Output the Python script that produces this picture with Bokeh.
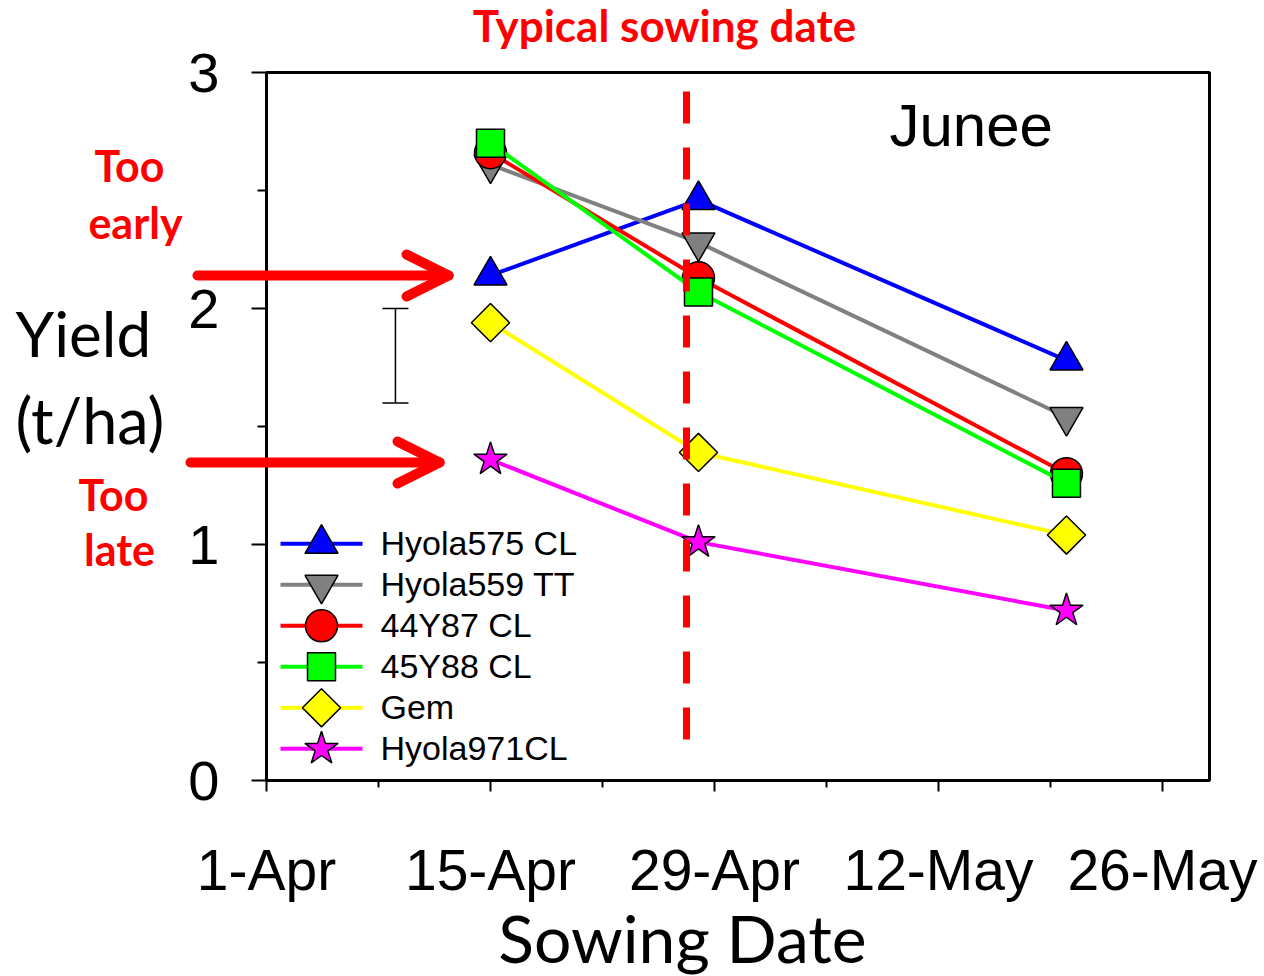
import math
from bokeh.plotting import figure
from bokeh.models import (Range1d, FixedTicker, Whisker, TeeHead, ColumnDataSource)
from bokeh.core.properties import value
from bokeh.embed import file_html
from bokeh.resources import INLINE

# ---------------- data ----------------
sow_days = [14, 27, 50]            # days after 1-Apr
hyola575 = [2.14, 2.46, 1.78]
hyola559 = [2.61, 2.28, 1.54]
y44y87 = [2.66, 2.13, 1.30]
y45y88 = [2.70, 2.07, 1.26]
gem = [1.94, 1.39, 1.04]
hyola971 = [1.36, 1.01, 0.72]
series_names = ["Hyola575 CL", "Hyola559 TT", "44Y87 CL", "45Y88 CL", "Gem", "Hyola971CL"]
series_values = [hyola575, hyola559, y44y87, y45y88, gem, hyola971]

tick_days = [0, 14, 28, 42, 56]
tick_labels = ["1-Apr", "15-Apr", "29-Apr", "12-May", "26-May"]
minor_days = [7, 21, 35, 49]
y_ticks = [0, 1, 2, 3]
y_minor = [0.5, 1.5, 2.5]

lsd_day = 8.06
lsd_low = 1.60
lsd_high = 2.00
typical_day = 26.25
typical_top = 2.92
typical_bottom = 0.17

# ---------------- styles ----------------
styles = [
    dict(color="#0000FF", marker="triangle", size=33, angle=0.0),
    dict(color="#808080", marker="inverted_triangle", size=33, angle=0.0),
    dict(color="#FF0000", marker="circle", size=32, angle=0.0),
    dict(color="#00FF00", marker="square", size=28, angle=0.0),
    dict(color="#FFFF00", marker="square", size=27, angle=math.pi / 4),
    dict(color="#FF00FF", marker="star", size=35, angle=0.0),
]

W, H = 1264, 976
FL, FT, FR, FB = 266, 72, 1209, 780      # frame in canvas px
X_MAX = 58.94
PX_PER_DAY = (FR - FL) / X_MAX
PX_PER_T = (FB - FT) / 3.0


def cx(px):   # canvas px -> data x
    return (px - FL) / PX_PER_DAY


def cy(py):   # canvas px -> data y
    return (FB - py) / PX_PER_T


p = figure(width=W, height=H, output_backend="svg", toolbar_location=None,
           x_range=Range1d(0, X_MAX), y_range=Range1d(0, 3),
           min_border_left=FL, min_border_right=W - FR,
           min_border_top=FT, min_border_bottom=H - FB)
p.grid.visible = False
p.outline_line_color = "black"
p.outline_line_width = 3
p.background_fill_color = "white"
p.border_fill_color = "white"

ax = p.xaxis[0]
ax.ticker = FixedTicker(ticks=tick_days, minor_ticks=minor_days)
ax.major_label_overrides = {d: l for d, l in zip(tick_days, tick_labels)}
ax.major_label_text_font = "Liberation Sans"
ax.major_label_text_font_size = "57px"
ax.major_label_text_color = "black"
ax.major_label_standoff = 46
ax.axis_line_width = 3
ax.axis_line_color = "black"
ax.major_tick_out = 11
ax.major_tick_in = 0
ax.minor_tick_out = 7
ax.minor_tick_in = 0
ax.major_tick_line_width = 2
ax.minor_tick_line_width = 2
ax.major_tick_line_color = "black"
ax.minor_tick_line_color = "black"

ay = p.yaxis[0]
ay.ticker = FixedTicker(ticks=y_ticks, minor_ticks=y_minor)
ay.major_label_text_font = "Liberation Sans"
ay.major_label_text_font_size = "56px"
ay.major_label_text_color = "black"
ay.major_label_standoff = 32
ay.axis_line_width = 3
ay.axis_line_color = "black"
ay.major_tick_out = 15
ay.major_tick_in = 0
ay.minor_tick_out = 9
ay.minor_tick_in = 0
ay.major_tick_line_width = 2
ay.minor_tick_line_width = 2
ay.major_tick_line_color = "black"
ay.minor_tick_line_color = "black"

# ---------------- series ----------------
for vals, st in zip(series_values, styles):
    p.line(sow_days, vals, line_color=st["color"], line_width=4)
    p.scatter(sow_days, vals, marker=st["marker"], size=st["size"], angle=st["angle"],
              fill_color=st["color"], line_color="black", line_width=1.5)

# typical sowing date line
p.line([typical_day, typical_day], [typical_top, typical_bottom],
       line_color="#FF0000", line_width=7, line_dash="32 24")

# LSD bar
wsrc = ColumnDataSource(dict(base=[lsd_day], lower=[lsd_low], upper=[lsd_high]))
p.add_layout(Whisker(source=wsrc, base="base", lower="lower", upper="upper",
                     dimension="height", line_color="black", line_width=1.5,
                     upper_head=TeeHead(size=26, line_color="black", line_width=1.5),
                     lower_head=TeeHead(size=26, line_color="black", line_width=1.5)))

# ---------------- manual legend ----------------
row0 = 543.3
row_step = 41.0
for i, (name, st) in enumerate(zip(series_names, styles)):
    yy = cy(row0 + i * row_step)
    p.line([cx(280), cx(362)], [yy, yy], line_color=st["color"], line_width=4)
    p.scatter([cx(321)], [yy], marker=st["marker"], size=st["size"], angle=st["angle"],
              fill_color=st["color"], line_color="black", line_width=1.5)
    p.text([cx(380)], [yy + 0.004], text=[name], text_font=value("Liberation Sans"),
           text_font_size="34px", text_color="black", text_baseline="middle",
           text_align="left")

# ---------------- arrows (overlay level so they may leave the frame) ----------------
HEAD = 42
for (xs, xe, yv) in [(197, 448, 275), (190, 439, 462)]:
    p.segment(x0=[cx(xs)], y0=[cy(yv)], x1=[cx(xe)], y1=[cy(yv)],
              line_color="#FF0000", line_width=10, line_cap="round", level="overlay")
    p.segment(x0=[cx(xe - HEAD), cx(xe - HEAD)], y0=[cy(yv - HEAD / 2), cy(yv + HEAD / 2)],
              x1=[cx(xe), cx(xe)], y1=[cy(yv), cy(yv)],
              line_color="#FF0000", line_width=10, line_cap="round", level="overlay")

# ---------------- texts ----------------
BASE_SHIFT = 0.41   # em; bokeh's alphabetic anchor sits this far above the drawn baseline


def lab(text, xpx, ypx, font, size, color="black", bold=False, align="center"):
    ypos = ypx - BASE_SHIFT * size
    p.text([cx(xpx)], [cy(ypos)], text=[text], text_font=value(font),
           text_font_size=f"{size}px", text_color=color,
           text_font_style="bold" if bold else "normal",
           text_align=align, text_baseline="alphabetic", level="overlay")


lab("Typical sowing date", 664, 43, "Lato", 44, "#FF0000", True)
lab("Too", 129, 183, "Lato", 43, "#FF0000", True)
lab("early", 135, 240, "Lato", 43, "#FF0000", True)
lab("Too", 113, 512, "Lato", 43, "#FF0000", True)
lab("late", 119, 567, "Lato", 43, "#FF0000", True)
lab("Yield", 15, 358, "Lato", 62, align="left")
lab("(t/ha)", 15, 445, "Lato", 63, align="left")
lab("Sowing Date", 682, 964, "Lato", 66)
lab("Junee", 889, 150, "Liberation Sans", 60, align="left")

open("out.html", "w").write(file_html(p, INLINE))
